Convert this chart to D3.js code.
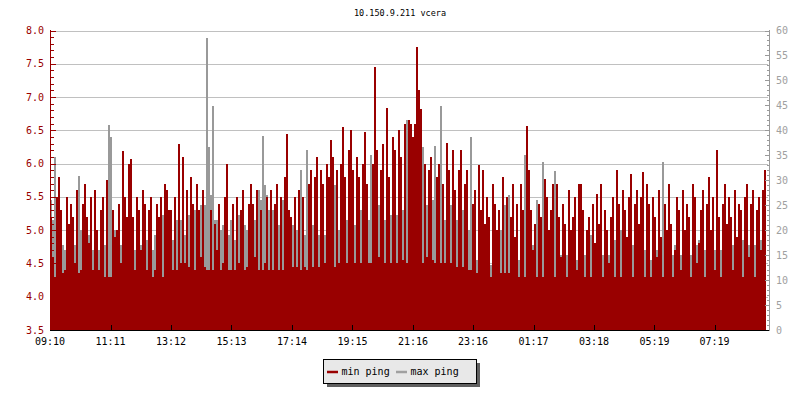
<!DOCTYPE html>
<html><head><meta charset="utf-8">
<script src="https://cdn.jsdelivr.net/npm/d3@7"></script>
<style>
body{margin:0;background:#fff}
svg{display:block}
text{font-family:"DejaVu Sans Mono",monospace}
</style>
</head><body>
<svg id="c" width="800" height="400"></svg>
<script>
const chartTitle = "10.150.9.211 vcera";
const seriesNames = ["min ping", "max ping"];
const timeTickLabels = ["09:10","11:11","13:12","15:13","17:14","19:15","21:16","23:16","01:17","03:18","05:19","07:19"];
const leftTicks = [3.5,4.0,4.5,5.0,5.5,6.0,6.5,7.0,7.5,8.0];
const rightTicks = [0,5,10,15,20,25,30,35,40,45,50,55,60];
const stepMinutes = 4;
const startTime = "09:10";

// min ping (left axis, ms) - one value per 4 minutes
const minPing = [
5.2,4.6,4.3,5.5,5.8,5.3,4.35,4.4,5.5,5.1, 5.4,5.2,4.5,5.6,4.35,4.4,5.4,5.7,5.2,4.8, 5.5,4.4,5.6,5.0,4.4,5.3,5.5,4.3,5.75,4.3, 4.3,5.3,4.9,5.0,5.4,4.5,6.19,5.5,5.2,6.0, 6.07,5.2,4.4,5.5,5.3,4.7,5.6,5.4,4.4,5.3, 5.5,4.3,4.4,5.4,5.2,5.5,4.3,5.7,5.6,5.3,
5.3,4.4,5.5,4.4,6.3,4.5,6.1,4.5,5.6,4.45, 5.8,5.4,4.4,5.7,5.3,4.6,5.6,4.45,4.4,4.4, 5.3,4.4,5.1,4.7,5.4,4.4,4.5,5.5,6.0,4.4, 4.4,5.4,4.4,5.5,4.5,5.3,5.6,4.4,4.45,5.4, 5.7,5.4,4.6,5.6,4.4,5.3,4.4,4.5,5.5,4.4, 5.6,4.4,5.4,5.7,4.4,5.5,4.4,5.8,6.45,5.3,
5.2,4.45,5.5,4.45,5.6,4.4,5.5,4.45,4.4,5.7, 5.9,4.45,5.8,6.1,4.45,5.9,5.7,4.5,6.0,5.8, 6.35,6.1,4.45,5.9,4.5,6.0,6.55,5.8,4.5,6.2, 6.5,5.9,4.5,6.1,5.8,4.5,6.0,6.47,5.7,4.5, 4.5,6.0,7.45,6.2,4.6,5.9,6.3,4.5,6.84,5.8, 4.5,6.4,6.2,4.5,6.5,6.1,4.55,6.6,4.5,6.65,
6.6,6.4,6.6,7.75,7.1,6.82,4.5,6.0,4.6,5.9, 6.1,4.55,4.5,5.8,6.0,4.5,5.7,4.5,6.31,5.9, 4.5,6.2,5.6,4.45,5.9,6.2,4.45,5.7,5.9,4.4, 4.4,5.4,5.6,4.35,5.98,5.3,5.9,5.1,5.5,5.2, 4.3,5.7,5.4,5.0,5.3,4.35,5.8,4.35,5.5,4.35, 5.2,5.7,4.9,5.4,4.3,5.7,5.3,4.3,6.57,5.9,
5.3,4.7,5.1,4.3,5.4,5.2,4.3,5.77,5.5,5.0, 5.3,5.7,4.3,5.7,5.2,4.6,5.4,5.1,4.3,5.6, 5.0,5.2,5.5,4.4,5.69,5.7,5.3,4.3,5.0,5.2, 4.3,5.4,4.8,5.55,5.1,5.69,4.3,5.3,5.0,4.5, 5.2,5.5,4.3,5.9,5.4,4.3,5.6,5.3,4.9,5.5, 5.84,4.3,5.4,5.6,5.1,5.5,5.87,4.3,5.7,5.4,
4.3,5.5,5.2,4.6,5.6,4.9,4.3,5.4,5.0,5.7, 5.1,4.3,4.7,5.5,5.3,4.4,5.6,5.0,5.4,5.2, 4.3,5.7,5.5,4.5,4.8,5.3,5.6,4.3,5.4,5.8, 5.0,5.5,4.4,6.2,5.2,4.3,5.4,5.7,5.1,5.5, 5.2,4.4,5.6,4.9,5.4,5.3,4.3,5.5,5.7,4.6, 5.4,5.6,4.3,5.3,5.5,4.7,5.6,5.9
];

// max ping (right axis, ms)
const maxPing = [
26,22,34.7,14,13,12,17,16,11,13, 12,14,17,14,30.9,20,15,13,18,19, 12,16,11,14,16,11,13,17,12,41, 38.7,19,20,16,17,17,13,14,15,12, 13,16,16,12,13,17,12,13,18,13, 12,16,19,12,17,18,23,19,16,20,
16,18,15,22,17,22,20,19,16,23, 18,15,24,17,24,25,26,25,58.5,36.6, 27,44.8,22,22,18,20,21,15,17,19, 22,16,18,15,23,17,14,21,20,21, 18,15,22,25,28,26,38.8,29,27,24, 20,24,18,23,21,19,26,20,18,17,
15,21,14,20,17,32,16,19,36,18, 15,21,17,14,19,13,15,19,14,16, 13,15,29,17,20,14,16,18,22,15, 17,14,21,22,19,24,21,18,16,22, 35,19,17,22,25,20,24,22,21,27, 23,20,25,23,22,26,24,24,42,23,
22,25,20,24,21,19,36.6,22,25,20, 23,26,36.8,21,24,44.8,22,22,23,18, 25,20,17,22,19,16,24,21,18,20, 38.6,15,13,14,12,13,11,14,12,13, 13,11,13,15,14,20,18,25,22,27, 19,13,12,11,14,12,11,35,24,20,
13,17,12,26,14,12,33.6,15,13,19, 12,14,31.8,16,12,15,11,13,15,12, 14,11,13,14,14,13,11,15,12,14, 19,13,16,12,14,11,15,15,12,15, 11,13,18,15,12,20,14,12,16,13, 11,17,14,12,19,16,13,16,12,15,
14,12,15,16,16,12,33.6,14,17,13, 15,15,17,16,13,15,18,14,12,16, 15,15,14,17,18,15,13,16,16,12, 14,18,16,13,17,16,12,16,13,15, 14,17,13,18,12,14,18,15,13,17, 14,12,17,15,13,18,14,15
];

const RED = "#990000", GREY = "#999999", GRID = "#c0c0c0";
const svg = d3.select("#c");
const L = 50, R = 766, T = 30.5, B = 330;

function toMin(s){const [h,m]=s.split(":").map(Number);return h*60+m;}
const t0 = toMin(startTime);
function offset(s){let d=toMin(s)-t0; if(d<0) d+=1440; return d;}

const nPts = Math.max(minPing.length, maxPing.length);
const x = d3.scaleLinear().domain([0, nPts*stepMinutes]).range([L, R]);
const yL = d3.scaleLinear().domain([3.5, 8]).range([B, T]);
const yR = d3.scaleLinear().domain([0, 60]).range([B, T]);

// title
svg.append("text").attr("x", 400).attr("y", 16).attr("text-anchor","middle")
  .attr("font-size", 8.5).attr("fill","#000").text(chartTitle);

// grid
svg.append("g").selectAll("line").data(leftTicks.filter(d=>d>3.5)).join("line")
  .attr("x1", L).attr("x2", R+2).attr("y1", d=>Math.round(yL(d))+0.5).attr("y2", d=>Math.round(yL(d))+0.5)
  .attr("stroke", GRID).attr("stroke-width", 1);

// max ping bars (grey) drawn first
svg.append("g").attr("shape-rendering","crispEdges").selectAll("rect").data(maxPing).join("rect")
  .attr("x", (d,i)=>x(i*stepMinutes)).attr("width", (d,i)=>x((i+1)*stepMinutes)-x(i*stepMinutes))
  .attr("y", d=>yR(d)).attr("height", d=>B-yR(d)).attr("fill", GREY);

// min ping bars (red)
svg.append("g").attr("shape-rendering","crispEdges").selectAll("rect").data(minPing).join("rect")
  .attr("x", (d,i)=>x(i*stepMinutes)).attr("width", (d,i)=>x((i+1)*stepMinutes)-x(i*stepMinutes))
  .attr("y", d=>yL(d)).attr("height", d=>B-yL(d)).attr("fill", RED);

// left axis
const la = svg.append("g").attr("shape-rendering","crispEdges");
la.append("line").attr("x1",L+0.5).attr("x2",L+0.5).attr("y1",T-1).attr("y2",B).attr("stroke",RED);
const minorL = d3.range(35, 81).map(v=>v/10);
la.selectAll("line.mn").data(minorL).join("line").attr("class","mn")
  .attr("x1",L).attr("x2",d=>L+(Math.abs(d*2-Math.round(d*2))<1e-6?6:4))
  .attr("y1",d=>Math.round(yL(d))+0.5).attr("y2",d=>Math.round(yL(d))+0.5).attr("stroke",RED);
la.selectAll("text").data(leftTicks).join("text")
  .attr("x", 44).attr("y", d=>yL(d)).attr("dy","0.35em").attr("text-anchor","end")
  .attr("font-size",10).attr("fill",RED).text(d=>d.toFixed(1));

// right axis
const RA = 769;
const ra = svg.append("g").attr("shape-rendering","crispEdges");
ra.append("line").attr("x1",RA+0.5).attr("x2",RA+0.5).attr("y1",T-1).attr("y2",B+1).attr("stroke",GREY);
ra.selectAll("line.mn").data(d3.range(0,61)).join("line").attr("class","mn")
  .attr("x1",d=>RA-(d%5===0?4:2)).attr("x2",RA+1)
  .attr("y1",d=>Math.round(yR(d))+0.5).attr("y2",d=>Math.round(yR(d))+0.5).attr("stroke",GREY);
ra.selectAll("text").data(rightTicks).join("text")
  .attr("x", 776).attr("y", d=>yR(d)).attr("dy","0.35em")
  .attr("font-size",10).attr("fill","#a0a0a0").text(d=>d);

// bottom axis
const ba = svg.append("g").attr("shape-rendering","crispEdges");
ba.append("line").attr("x1",L).attr("x2",RA).attr("y1",B+0.5).attr("y2",B+0.5).attr("stroke","#000");
ba.selectAll("line.tk").data(timeTickLabels.slice(1)).join("line").attr("class","tk")
  .attr("x1",d=>Math.round(x(offset(d)))+0.5).attr("x2",d=>Math.round(x(offset(d)))+0.5)
  .attr("y1",B-5).attr("y2",B).attr("stroke","#000");
ba.selectAll("text").data(timeTickLabels).join("text")
  .attr("x", d=>x(offset(d))).attr("y", 345).attr("text-anchor","middle")
  .attr("font-size",10).attr("fill","#000").text(d=>d);

// legend
const lg = svg.append("g");
lg.append("rect").attr("x",327).attr("y",363).attr("width",153).attr("height",24).attr("fill","#606060");
lg.append("rect").attr("x",323.5).attr("y",359.5).attr("width",153).attr("height",24)
  .attr("fill","#e8e8e8").attr("stroke","#000").attr("shape-rendering","crispEdges");
const items = [{name:seriesNames[0], color:RED, x:327},{name:seriesNames[1], color:"#a0a0a0", x:396}];
items.forEach(it=>{
  lg.append("line").attr("x1",it.x).attr("x2",it.x+11).attr("y1",372).attr("y2",372)
    .attr("stroke",it.color).attr("stroke-width",2.5);
  lg.append("text").attr("x",it.x+14.5).attr("y",375).attr("font-size",10).attr("fill","#000").text(it.name);
});
</script>
</body></html>
